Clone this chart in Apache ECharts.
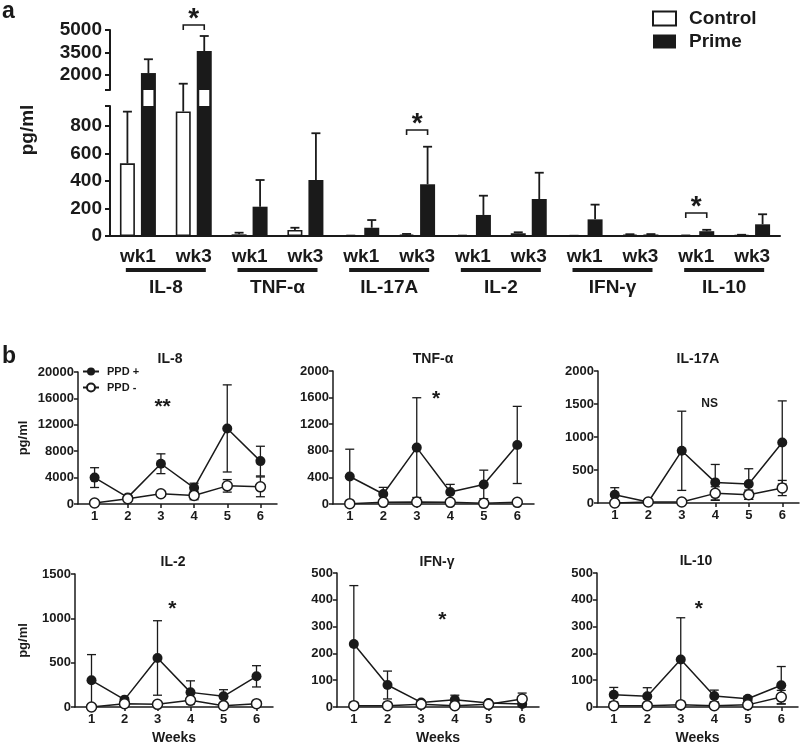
<!DOCTYPE html>
<html>
<head>
<meta charset="utf-8">
<script src="https://cdn.jsdelivr.net/npm/echarts@6/dist/echarts.min.js"></script>
<style>
  html, body { margin: 0; background: #fff; }
  #chart { width: 800px; height: 743px; }
</style>
</head>
<body>
<div id="chart"></div>
<script>
// ---- panel a: bars (mean) and top of the error whisker, pg/ml ----
const cytokines = ['IL-8', 'TNF-α', 'IL-17A', 'IL-2', 'IFN-γ', 'IL-10'];
const weekCats = cytokines.flatMap(c => [c + ' wk1', c + ' wk3']);
const controlMean = [528, 905, 12, 44, 2, 10, 2, 20, 1, 10, 3, 6];
const controlTop  = [904, 1420, 24, 60, 3, 15, 3, 27, 2, 13, 4, 9];
const primeMean   = [2130, 3600, 213, 407, 60, 376, 153, 269, 121, 11, 35, 85];
const primeTop    = [3050, 4600, 407, 747, 116, 649, 293, 460, 228, 14, 45, 158];
// significance brackets: [category index, bracket height]
const sigUpper = [[1, 5330]];
const sigLower = [[5, 771], [10, 167]];

// ---- panel b: weekly means and SD ----
const weeks = [1, 2, 3, 4, 5, 6];
const il8Pos = [4000, 1000, 6100, 2450, 11450, 6500];
const il8PosSd = [1500, 300, 1500, 700, 6600, 2250];
const il8Neg = [150, 800, 1550, 1300, 2750, 2600];
const il8NegSd = [100, 200, 400, 650, 950, 1500];
const tnfPos = [414, 150, 848, 180, 294, 888];
const tnfPosSd = [410, 100, 750, 115, 215, 580];
const tnfNeg = [5, 25, 30, 25, 10, 25];
const tnfNegSd = [5, 10, 10, 10, 10, 10];
const il17Pos = [126, 15, 791, 312, 287, 917];
const il17PosSd = [106, 10, 600, 272, 232, 630];
const il17Neg = [0, 15, 15, 146, 126, 227];
const il17NegSd = [0, 5, 10, 100, 70, 115];
const il2Pos = [301, 83, 553, 165, 120, 346];
const il2PosSd = [290, 20, 420, 130, 75, 120];
const il2Neg = [0, 38, 30, 75, 15, 38];
const il2NegSd = [0, 10, 10, 15, 10, 10];
const ifnPos = [235, 82, 17, 27, 15, 11];
const ifnPosSd = [218, 52, 5, 17, 5, 10];
const ifnNeg = [5, 5, 10, 5, 10, 30];
const ifnNegSd = [2, 2, 3, 2, 3, 22];
const il10Pos = [46, 40, 177, 41, 31, 81];
const il10PosSd = [27, 32, 156, 22, 8, 70];
const il10Neg = [5, 5, 8, 5, 8, 37];
const il10NegSd = [2, 2, 3, 2, 3, 25];
const yMaxB = [20000, 2000, 2000, 1500, 500, 500];
const yStepB = [4000, 400, 500, 500, 100, 100];
const sigTextB = ['**', '*', 'NS', '*', '*', '*'];
const sigPosB = [[3.05, 15300], [3.58, 1652], [3.83, 1509], [3.45, 1154], [3.63, 341], [3.54, 383]];

const tableB = [
  [il8Pos, il8PosSd, il8Neg, il8NegSd],
  [tnfPos, tnfPosSd, tnfNeg, tnfNegSd],
  [il17Pos, il17PosSd, il17Neg, il17NegSd],
  [il2Pos, il2PosSd, il2Neg, il2NegSd],
  [ifnPos, ifnPosSd, ifnNeg, ifnNegSd],
  [il10Pos, il10PosSd, il10Neg, il10NegSd]
];

// layout
const FONT = "'Liberation Sans', Arial, sans-serif";
const INK = '#1a1a1a';
const UPPER_MIN = 1000, UPPER_MAX = 5000, LOWER_MAX = 945;
const BREAK_GAP = 16;
const BAR_W = 15, BAR_GAP = 0.4;
const BAR_OFF = BAR_W * (1 + BAR_GAP) / 2;
const bLeft = [78, 333, 598, 75, 337, 597];
const bTop = [372, 371, 371, 574, 573, 573];
const bWidth = [199, 201, 201, 198, 202, 201];
const bHeight = [132, 133, 132, 133, 134, 134];
const bTitlePos = [[170, 359], [433, 359], [698, 359], [173, 562], [437, 562], [696, 561]];
const plain = v => String(v);

function errA(offset, lower) {
  return function (params, api) {
    const cs = params.coordSys;
    const cat = api.value(0), m = api.value(1), t = api.value(2);
    const p0 = api.coord([cat, m]), p1 = api.coord([cat, t]);
    const x = p0[0] + offset;
    let y0 = p0[1], y1 = p1[1], cap = true;
    if (lower) {
      if (m >= LOWER_MAX) return null;
      if (t > LOWER_MAX) { y1 = cs.y - BREAK_GAP; cap = false; }
    } else {
      if (t <= UPPER_MIN) return null;
      if (m < UPPER_MIN) y0 = cs.y + cs.height;
    }
    const style = { stroke: INK, lineWidth: 1.8 };
    const kids = [{ type: 'line', shape: { x1: x, y1: y0, x2: x, y2: y1 }, style }];
    if (cap) kids.push({ type: 'line', shape: { x1: x - 4.5, y1: y1, x2: x + 4.5, y2: y1 }, style });
    return { type: 'group', children: kids };
  };
}

// black bar edges carried through the axis break (bars taller than the lower segment)
function breakSides(offset) {
  return function (params, api) {
    const cs = params.coordSys;
    if (api.value(1) <= LOWER_MAX) return null;
    const x = api.coord([api.value(0), 0])[0] + offset;
    const top = cs.y - BREAK_GAP;
    return {
      type: 'group', children: [
        { type: 'rect', shape: { x: x - BAR_W / 2, y: top, width: 2.5, height: BREAK_GAP }, style: { fill: INK } },
        { type: 'rect', shape: { x: x + BAR_W / 2 - 2.5, y: top, width: 2.5, height: BREAK_GAP }, style: { fill: INK } }
      ]
    };
  };
}

function sigA(params, api) {
  const p = api.coord([api.value(0), api.value(1)]);
  const xa = p[0] - BAR_OFF, xb = p[0] + BAR_OFF, y = p[1];
  const style = { stroke: INK, lineWidth: 1.6, fill: null };
  return {
    type: 'group', children: [
      { type: 'polyline', shape: { points: [[xa, y + 5], [xa, y], [xb, y], [xb, y + 5]] }, style },
      { type: 'text', x: p[0], y: y - 12 + 0.22 * 28,
        style: { text: '*', fill: INK, font: 'bold 28px ' + FONT, align: 'center', verticalAlign: 'middle' } }
    ]
  };
}

function errB(params, api) {
  const x = api.value(0), lo = Math.max(0, api.value(1)), hi = api.value(2);
  if (hi - lo <= 0) return null;
  const a = api.coord([x, lo]), b = api.coord([x, hi]);
  const style = { stroke: INK, lineWidth: 1.3 };
  return {
    type: 'group', children: [
      { type: 'line', shape: { x1: a[0], y1: a[1], x2: b[0], y2: b[1] }, style },
      { type: 'line', shape: { x1: b[0] - 4.5, y1: b[1], x2: b[0] + 4.5, y2: b[1] }, style },
      { type: 'line', shape: { x1: a[0] - 4.5, y1: a[1], x2: a[0] + 4.5, y2: a[1] }, style }
    ]
  };
}

function sigB(text) {
  return function (params, api) {
    const p = api.coord([api.value(0), api.value(1)]);
    const star = text !== 'NS';
    const fs = star ? 21 : 12;
    return { type: 'text', x: p[0], y: p[1] + (star ? 0.22 * fs : 0),
      style: { text, fill: INK, font: 'bold ' + fs + 'px ' + FONT, align: 'center', verticalAlign: 'middle' } };
  };
}

const grid = [
  { left: 110, top: 30, width: 670, height: 60, outerBoundsMode: 'none' },
  { left: 110, top: 106, width: 670, height: 130, outerBoundsMode: 'none' }
];
const xAxis = [
  { type: 'category', gridIndex: 0, data: weekCats, show: false },
  { type: 'category', gridIndex: 1, data: weekCats,
    axisLine: { lineStyle: { color: INK, width: 2 } },
    axisTick: { alignWithLabel: true, length: 5, lineStyle: { color: INK, width: 2 } },
    axisLabel: { color: INK, fontFamily: FONT, fontWeight: 'bold', fontSize: 19, lineHeight: 20, margin: 11,
      formatter: v => v.split(' ').pop() } },
  { type: 'category', gridIndex: 1, data: cytokines, position: 'bottom',
    axisLine: { show: false }, axisTick: { show: false },
    axisLabel: { margin: 32, formatter: v => '{bar|}\n{t|' + v + '}',
      rich: {
        bar: { width: 80, height: 4, lineHeight: 4, backgroundColor: INK },
        t: { color: INK, fontFamily: FONT, fontWeight: 'bold', fontSize: 19, lineHeight: 32 }
      } } }
];
const yAxis = [
  { type: 'value', gridIndex: 0, min: UPPER_MIN, max: UPPER_MAX,
    axisLine: { show: true, lineStyle: { color: INK, width: 2 } },
    axisTick: { show: true, length: 5, customValues: [1000, 2000, 3500, 5000], lineStyle: { color: INK, width: 2 } },
    axisLabel: { customValues: [2000, 3500, 5000], formatter: plain, color: INK, fontFamily: FONT, fontWeight: 'bold', fontSize: 19, margin: 8 },
    splitLine: { show: false } },
  { type: 'value', gridIndex: 1, min: 0, max: LOWER_MAX,
    axisLine: { show: true, lineStyle: { color: INK, width: 2 } },
    axisTick: { show: true, length: 5, customValues: [0, 200, 400, 600, 800, LOWER_MAX], lineStyle: { color: INK, width: 2 } },
    axisLabel: { customValues: [0, 200, 400, 600, 800], formatter: plain, color: INK, fontFamily: FONT, fontWeight: 'bold', fontSize: 19, margin: 8 },
    splitLine: { show: false } }
];

const series = [];
[[0, 0], [1, 1]].forEach(([xi, yi]) => {
  series.push({ type: 'bar', name: 'Control', xAxisIndex: xi, yAxisIndex: yi, data: controlMean,
    barWidth: BAR_W, barGap: (BAR_GAP * 100) + '%', z: 2,
    itemStyle: { color: '#fff', borderColor: INK, borderWidth: 1.6 } });
  series.push({ type: 'bar', name: 'Prime', xAxisIndex: xi, yAxisIndex: yi, data: primeMean,
    barWidth: BAR_W, barGap: (BAR_GAP * 100) + '%', z: 2,
    itemStyle: { color: INK } });
  const lower = yi === 1;
  series.push({ type: 'custom', xAxisIndex: xi, yAxisIndex: yi, z: 3, silent: true,
    renderItem: errA(-BAR_OFF, lower), data: controlMean.map((m, i) => [i, m, controlTop[i]]) });
  series.push({ type: 'custom', xAxisIndex: xi, yAxisIndex: yi, z: 3, silent: true,
    renderItem: errA(BAR_OFF, lower), data: primeMean.map((m, i) => [i, m, primeTop[i]]) });
});
series.push({ type: 'custom', xAxisIndex: 1, yAxisIndex: 1, z: 3, silent: true, clip: false,
  renderItem: breakSides(-BAR_OFF), data: controlMean.map((m, i) => [i, m]) });
series.push({ type: 'custom', xAxisIndex: 1, yAxisIndex: 1, z: 3, silent: true, clip: false,
  renderItem: breakSides(BAR_OFF), data: primeMean.map((m, i) => [i, m]) });
series.push({ type: 'custom', xAxisIndex: 0, yAxisIndex: 0, z: 4, silent: true, clip: false, renderItem: sigA, data: sigUpper });
series.push({ type: 'custom', xAxisIndex: 1, yAxisIndex: 1, z: 4, silent: true, clip: false, renderItem: sigA, data: sigLower });

const graphic = [
  { type: 'text', x: 28, y: 130, rotation: Math.PI / 2,
    style: { text: 'pg/ml', fill: INK, font: 'bold 19px ' + FONT, align: 'center', verticalAlign: 'middle' } }
];

tableB.forEach((row, k) => {
  const [pos, posSd, neg, negSd] = row;
  const gi = grid.length;
  grid.push({ left: bLeft[k], top: bTop[k], width: bWidth[k], height: bHeight[k], outerBoundsMode: 'none' });
  const bottomRow = k >= 3;
  xAxis.push({ type: 'value', gridIndex: gi, min: 0.5, max: 6.5,
    name: bottomRow ? 'Weeks' : '', nameLocation: 'middle', nameGap: 24,
    nameTextStyle: { color: INK, fontFamily: FONT, fontWeight: 'bold', fontSize: 14 },
    axisLine: { lineStyle: { color: INK, width: 1.5 } },
    axisTick: { length: 4, customValues: weeks, lineStyle: { color: INK, width: 1.5 } },
    axisLabel: { customValues: weeks, formatter: plain, color: INK, fontFamily: FONT, fontWeight: 'bold', fontSize: 13, margin: 6 },
    splitLine: { show: false } });
  yAxis.push({ type: 'value', gridIndex: gi, min: 0, max: yMaxB[k], interval: yStepB[k],
    name: (k % 3 === 0) ? 'pg/ml' : '', nameLocation: 'middle', nameGap: k === 0 ? 48 : 45,
    nameTextStyle: { color: INK, fontFamily: FONT, fontWeight: 'bold', fontSize: 13 },
    axisLine: { show: true, lineStyle: { color: INK, width: 1.5 } },
    axisTick: { show: true, length: 4, lineStyle: { color: INK, width: 1.5 } },
    axisLabel: { formatter: plain, color: INK, fontFamily: FONT, fontWeight: 'bold', fontSize: 13, margin: 4 },
    splitLine: { show: false } });
  const xi = xAxis.length - 1, yi = yAxis.length - 1;
  series.push({ type: 'custom', xAxisIndex: xi, yAxisIndex: yi, z: 2, silent: true, clip: true, renderItem: errB,
    data: weeks.map((w, j) => [w, pos[j] - posSd[j], pos[j] + posSd[j]]) });
  series.push({ type: 'custom', xAxisIndex: xi, yAxisIndex: yi, z: 2, silent: true, clip: true, renderItem: errB,
    data: weeks.map((w, j) => [w, neg[j] - negSd[j], neg[j] + negSd[j]]) });
  series.push({ type: 'line', name: 'PPD +', xAxisIndex: xi, yAxisIndex: yi, z: 3,
    data: weeks.map((w, j) => [w, pos[j]]), symbol: 'circle', symbolSize: 10,
    itemStyle: { color: INK }, lineStyle: { color: INK, width: 1.5 } });
  series.push({ type: 'line', name: 'PPD -', xAxisIndex: xi, yAxisIndex: yi, z: 4,
    data: weeks.map((w, j) => [w, neg[j]]), symbol: 'circle', symbolSize: 10,
    itemStyle: { color: '#fff', borderColor: INK, borderWidth: 1.5 }, lineStyle: { color: INK, width: 1.5 } });
  series.push({ type: 'custom', xAxisIndex: xi, yAxisIndex: yi, z: 5, silent: true, clip: false,
    renderItem: sigB(sigTextB[k]), data: [sigPosB[k]] });
  graphic.push({ type: 'text', x: bTitlePos[k][0], y: bTitlePos[k][1],
    style: { text: cytokines[k], fill: INK, font: 'bold 14px ' + FONT, align: 'center', verticalAlign: 'middle' } });
});

const chart = echarts.init(document.getElementById('chart'));
chart.setOption({
  animation: false,
  backgroundColor: '#fff',
  title: [
    { text: 'a', left: 2, top: 0, padding: 0, textStyle: { color: INK, fontFamily: FONT, fontWeight: 'bold', fontSize: 23 } },
    { text: 'b', left: 2, top: 345, padding: 0, textStyle: { color: INK, fontFamily: FONT, fontWeight: 'bold', fontSize: 23 } }
  ],
  legend: [
    { data: ['Control', 'Prime'], orient: 'vertical', left: 647, top: 4, itemWidth: 23, itemHeight: 14,
      itemGap: 4, icon: 'rect', selectedMode: false,
      textStyle: { color: INK, fontFamily: FONT, fontWeight: 'bold', fontSize: 19, padding: [0, 0, 0, 8] } },
    { data: ['PPD +', 'PPD -'], orient: 'vertical', left: 77, top: 361, itemWidth: 16, itemHeight: 10,
      itemGap: 5, selectedMode: false,
      textStyle: { color: INK, fontFamily: FONT, fontWeight: 'bold', fontSize: 11, padding: [0, 0, 0, 3] } }
  ],
  grid, xAxis, yAxis, series, graphic
});
</script>
</body>
</html>
